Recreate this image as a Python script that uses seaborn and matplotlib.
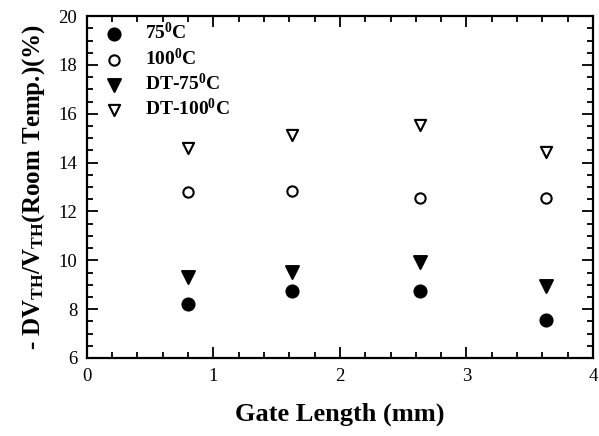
import matplotlib
matplotlib.use("Agg")
import matplotlib.pyplot as plt
import seaborn as sns
from matplotlib.ticker import MultipleLocator

gate_length = [0.8, 1.62, 2.63, 3.63]
t75 = [8.2, 8.76, 8.76, 7.56]
t100 = [12.78, 12.84, 12.54, 12.54]
dt75 = [9.3, 9.53, 9.94, 8.96]
dt100 = [14.6, 15.13, 15.55, 14.43]
labels = ["75$^0$C", "100$^0$C", "DT-75$^0$C", "DT-100$^0$C"]

sns.set_style("ticks")
plt.rcParams["font.family"] = ["Liberation Serif", "DejaVu Serif"]
plt.rcParams["mathtext.fontset"] = "custom"
plt.rcParams["mathtext.rm"] = "Liberation Serif:bold"
plt.rcParams["mathtext.it"] = "Liberation Serif:bold"
plt.rcParams["mathtext.bf"] = "Liberation Serif:bold"
for key in ["text.color", "axes.labelcolor", "xtick.color", "ytick.color", "axes.edgecolor"]:
    plt.rcParams[key] = "black"

fig = plt.figure(figsize=(5.99, 4.36), dpi=100)
ax = fig.add_axes([0.145, 0.179, 0.845, 0.784])

series = [
    (t75, "o", "black", 75),
    (t100, "o", "white", 55),
    (dt75, "v", "black", 85),
    (dt100, "v", "white", 65),
]
for (vals, mk, fc, s), lab in zip(series, labels):
    sns.scatterplot(x=gate_length, y=vals, marker=mk, s=s, facecolor=fc,
                    edgecolor="black", linewidth=1.5, label=lab, ax=ax)

ax.set_xlim(0, 4)
ax.set_ylim(6, 20)
ax.xaxis.set_major_locator(MultipleLocator(1))
ax.xaxis.set_minor_locator(MultipleLocator(0.2))
ax.yaxis.set_major_locator(MultipleLocator(2))
ax.yaxis.set_minor_locator(MultipleLocator(0.5))
ax.tick_params(which="both", direction="in", top=True, right=True, width=1.3)
ax.tick_params(which="major", length=8, labelsize=13.5, pad=7)
ax.tick_params(which="minor", length=4)
for sp in ax.spines.values():
    sp.set_linewidth(1.6)

ax.set_xlabel("Gate Length (mm)", fontsize=19, fontweight="bold", labelpad=13)
ax.set_ylabel("- DV$_{TH}$/V$_{TH}$(Room Temp.)(%)", fontsize=18,
              fontweight="bold", labelpad=8)

leg = ax.legend(loc="upper left", bbox_to_anchor=(0.0, 1.016), frameon=False,
                prop={"weight": "bold", "size": 14}, handlelength=1.6,
                handletextpad=0.8, labelspacing=0.2, borderaxespad=0.2)

fig.savefig("out.png", dpi=100)
